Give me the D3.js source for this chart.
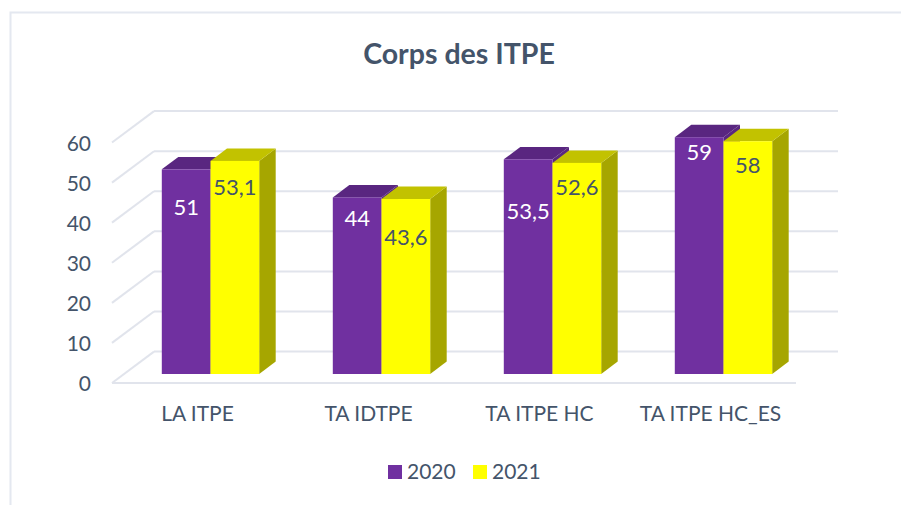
<!doctype html>
<html lang="fr">
  <head>
    <title>Corps des ITPE</title>
    <style>
      * {
        margin: 0;
        border: 0;
        padding: 0;
      }
      body {
        background-color: #fff;
        overflow: hidden;
      }
      text {
        font-family: 'Lato', sans-serif;
        fill: #44546a;
      }
    </style>
  </head>
  <body>
    <div id="plot"></div>

<script src="https://d3js.org/d3.v7.min.js"></script>
<script>

  var categories = ["LA ITPE", "TA IDTPE", "TA ITPE HC", "TA ITPE HC_ES"];
  var years = ["2020", "2021"];
  var values2020 = [51, 44, 53.5, 59];
  var values2021 = [53.1, 43.6, 52.6, 58];
  var yTicks = [0, 10, 20, 30, 40, 50, 60];

  var width = 901;
  var height = 505;

  var seriesValues = [values2020, values2021];
  var front = ["#7030a0", "#ffff00"];
  var top3d = ["#592680", "#c2c200"];
  var side = ["#5a2780", "#a6a600"];
  var labelFill = ["#ffffff", "#44546a"];

  // how far below the bar top each value label sits, as placed in the original
  var labelDrop = [[38, 26], [21, 38], [52, 24], [15, 24]];

  // fake 3d: floor runs back by this much, bars sit part way in
  var floorDx = 42, floorDy = -31.4;
  var barOffX = 13, barOffY = -9;
  var depthX = 16.5, depthY = -12.4;

  var x0 = d3.scaleBand().domain(categories).range([112, 796]);
  var x1 = d3.scaleBand().domain(years).range([0, 97.4]);
  var yFront = d3.scaleLinear().domain([0, 60]).range([383, 142.5]);
  var yBack = d3.scaleLinear().domain([0, 60]).range([383 + floorDy, 383 + floorDy - 240.5]);
  var barH = d3.scaleLinear().domain([0, 60]).range([0, 240.8]);

  var fmt = d3.formatLocale({decimal: ",", thousands: " ", grouping: [3], currency: ["", " €"]}).format("~r");

  var svg = d3.select("#plot").append("svg").attr("width", width).attr("height", height).style("display", "block");

  // frame of the chart, only top and left show in the crop
  svg.append("path").attr("d", "M10.5,505V12.5H901").attr("fill", "none").attr("stroke", "#e4e8f0").attr("stroke-width", 2);

  svg.append("text").attr("x", 459).attr("y", 64).attr("text-anchor", "middle")
    .attr("font-size", 28.5).attr("font-weight", 700).text("Corps des ITPE");

  // walls
  var grid = svg.append("g").attr("fill", "none").attr("stroke", "#e1e4ec").attr("stroke-width", 2);
  grid.selectAll(".back").data(yTicks).enter().append("line")
    .attr("x1", 112 + floorDx).attr("x2", 796 + floorDx)
    .attr("y1", d => yBack(d)).attr("y2", d => yBack(d));
  grid.selectAll(".diag").data(yTicks).enter().append("line")
    .attr("x1", 112).attr("x2", 112 + floorDx)
    .attr("y1", d => yFront(d)).attr("y2", d => yBack(d));
  grid.append("line").attr("x1", 112).attr("x2", 796).attr("y1", yFront(0)).attr("y2", yFront(0));

  // y axis
  var yAxis = svg.append("g").attr("transform", "translate(112,1)")
    .call(d3.axisLeft(yFront).tickValues(yTicks).tickSize(0).tickPadding(21));
  yAxis.select(".domain").remove();
  yAxis.selectAll("text").attr("font-size", 21).attr("font-family", "Lato").style("fill", "#44546a");

  // x axis
  var xAxis = svg.append("g").attr("transform", "translate(0,383)")
    .call(d3.axisBottom(x0).tickSize(0).tickPadding(23));
  xAxis.select(".domain").remove();
  xAxis.selectAll("text").attr("font-size", 21).attr("font-family", "Lato").style("fill", "#44546a");

  function poly(pts) {
    var p = d3.path();
    pts.forEach((q, i) => i ? p.lineTo(q[0], q[1]) : p.moveTo(q[0], q[1]));
    p.closePath();
    return p.toString();
  }

  var base = yFront(0) + barOffY;
  var bars = [];
  years.forEach((yr, s) => {
    categories.forEach((c, i) => {
      var l = x0(c) + x0.bandwidth() / 2 + barOffX - x1.range()[1] / 2 + x1(yr);
      var r = l + x1.bandwidth();
      var t = base - barH(seriesValues[s][i]);
      bars.push({s: s, i: i, l: l, r: r, t: t, v: seriesValues[s][i]});
    });
  });

  var g = svg.selectAll(".bar").data(bars).enter().append("g").attr("class", "bar");
  g.append("path").attr("fill", d => side[d.s]).attr("d", d => poly([
    [d.r, d.t], [d.r + depthX, d.t + depthY], [d.r + depthX, base + depthY], [d.r, base]
  ]));
  g.append("path").attr("fill", d => top3d[d.s]).attr("d", d => poly([
    [d.l, d.t], [d.l + depthX, d.t + depthY], [d.r + depthX, d.t + depthY], [d.r, d.t]
  ]));
  g.append("rect").attr("fill", d => front[d.s])
    .attr("x", d => d.l).attr("y", d => d.t)
    .attr("width", d => d.r - d.l).attr("height", d => base - d.t);

  svg.selectAll(".val").data(bars).enter().append("text")
    .attr("x", d => (d.l + d.r) / 2)
    .attr("y", d => d.t + labelDrop[d.i][d.s])
    .attr("dy", "0.35em")
    .attr("text-anchor", "middle")
    .attr("font-size", 22)
    .style("fill", d => labelFill[d.s])
    .text(d => fmt(d.v));

  // legend
  var legendX = d3.scaleOrdinal().domain(years).range([388, 473]);
  var lg = svg.selectAll(".lg").data(years).enter().append("g").attr("class", "lg");
  lg.append("rect").attr("x", d => legendX(d)).attr("y", 465).attr("width", 14).attr("height", 14)
    .attr("fill", (d, i) => front[i]);
  lg.append("text").attr("x", d => legendX(d) + 19).attr("y", 472).attr("dy", "0.35em")
    .attr("font-size", 21).text(d => d);

</script>
  </body>
</html>
